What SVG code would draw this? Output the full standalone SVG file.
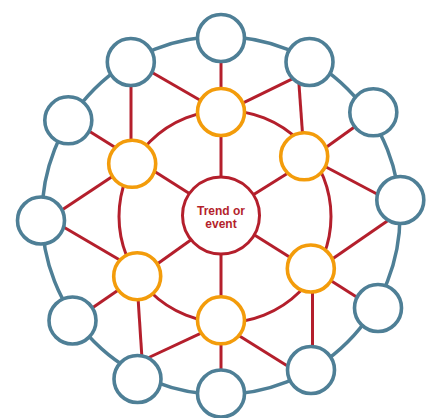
<svg xmlns="http://www.w3.org/2000/svg" width="426" height="418" viewBox="0 0 426 418">
<style>
.ring-b{fill:none;stroke:#4e7f96;stroke-width:3.5}
.ring-r{fill:none;stroke:#b41f2c;stroke-width:3}
.ln{stroke:#b41f2c;stroke-width:3;fill:none}
.blue{fill:#fff;stroke:#4e7f96;stroke-width:3.6}
.org{fill:#fff;stroke:#f39c0b;stroke-width:3.6}
.ctr{fill:#fff;stroke:#b41f2c;stroke-width:3}
.lbl{font-family:"Liberation Sans",Arial,sans-serif;font-weight:bold;font-size:12px;fill:#b41f2c;text-anchor:middle}
</style>
<rect width="426" height="418" fill="#fff"/>
<g id="rings">
<circle class="ring-b" cx="221" cy="215.5" r="179"/>
<circle class="ring-r" cx="225" cy="216.5" r="106"/>
</g>
<g id="connectors">
<line class="ln" x1="221" y1="131" x2="221" y2="182"/>
<line class="ln" x1="250.9" y1="196.2" x2="290.1" y2="171.8"/>
<line class="ln" x1="250.9" y1="232.8" x2="293.1" y2="259.2"/>
<line class="ln" x1="221" y1="249" x2="221" y2="301"/>
<line class="ln" x1="192.9" y1="238.5" x2="155.1" y2="265.5"/>
<line class="ln" x1="192.1" y1="195.2" x2="151.9" y2="169.8"/>
<line class="ln" x1="203.2" y1="102" x2="147.8" y2="70"/>
<line class="ln" x1="221" y1="57" x2="221" y2="93"/>
<line class="ln" x1="239.6" y1="104.6" x2="295.4" y2="77.4"/>
<line class="ln" x1="302.7" y1="136" x2="298.6" y2="79"/>
<line class="ln" x1="323.1" y1="149.5" x2="357.9" y2="124.5"/>
<line class="ln" x1="322.7" y1="165.2" x2="380.3" y2="195.8"/>
<line class="ln" x1="330.1" y1="260.4" x2="390.9" y2="218.6"/>
<line class="ln" x1="327.9" y1="278.8" x2="360.1" y2="299.2"/>
<line class="ln" x1="312.5" y1="288" x2="312.5" y2="351"/>
<line class="ln" x1="235.9" y1="333.8" x2="291.1" y2="368.2"/>
<line class="ln" x1="221" y1="339" x2="221" y2="374"/>
<line class="ln" x1="209.7" y1="329.1" x2="144.6" y2="359.5"/>
<line class="ln" x1="137.9" y1="296" x2="142.1" y2="360"/>
<line class="ln" x1="122" y1="287.6" x2="90" y2="309.4"/>
<line class="ln" x1="123.2" y1="262" x2="61.8" y2="226"/>
<line class="ln" x1="115" y1="174.7" x2="60" y2="211.3"/>
<line class="ln" x1="118.1" y1="149.2" x2="86.9" y2="129.8"/>
<line class="ln" x1="131" y1="81" x2="131" y2="144"/>
</g>
<g id="b1"><circle class="blue" cx="221" cy="38" r="23.5"/></g>
<g id="b2"><circle class="blue" cx="309.5" cy="62" r="23.5"/></g>
<g id="b3"><circle class="blue" cx="373.3" cy="112.3" r="23.5"/></g>
<g id="b4"><circle class="blue" cx="400.3" cy="200" r="23.5"/></g>
<g id="b5"><circle class="blue" cx="378" cy="308" r="23.5"/></g>
<g id="b6"><circle class="blue" cx="311" cy="370" r="23.5"/></g>
<g id="b7"><circle class="blue" cx="221" cy="393.5" r="23.5"/></g>
<g id="b8"><circle class="blue" cx="137.5" cy="379" r="23.5"/></g>
<g id="b9"><circle class="blue" cx="72.5" cy="320.5" r="23.5"/></g>
<g id="b10"><circle class="blue" cx="41" cy="220.5" r="23.5"/></g>
<g id="b11"><circle class="blue" cx="68.3" cy="120.3" r="23.5"/></g>
<g id="b12"><circle class="blue" cx="130.8" cy="62" r="23.5"/></g>
<g id="o1"><circle class="org" cx="221" cy="112" r="23.5"/></g>
<g id="o2"><circle class="org" cx="304.2" cy="156.3" r="23.5"/></g>
<g id="o3"><circle class="org" cx="310.8" cy="268.5" r="23.5"/></g>
<g id="o4"><circle class="org" cx="221" cy="320.3" r="23.5"/></g>
<g id="o5"><circle class="org" cx="137.2" cy="276.2" r="23.5"/></g>
<g id="o6"><circle class="org" cx="132.2" cy="163.8" r="23.5"/></g>
<g id="center">
<circle class="ctr" cx="221" cy="215.5" r="38.5"/>
<text class="lbl" x="221" y="214.5">Trend or</text>
<text class="lbl" x="221" y="227.5">event</text>
</g>
</svg>
